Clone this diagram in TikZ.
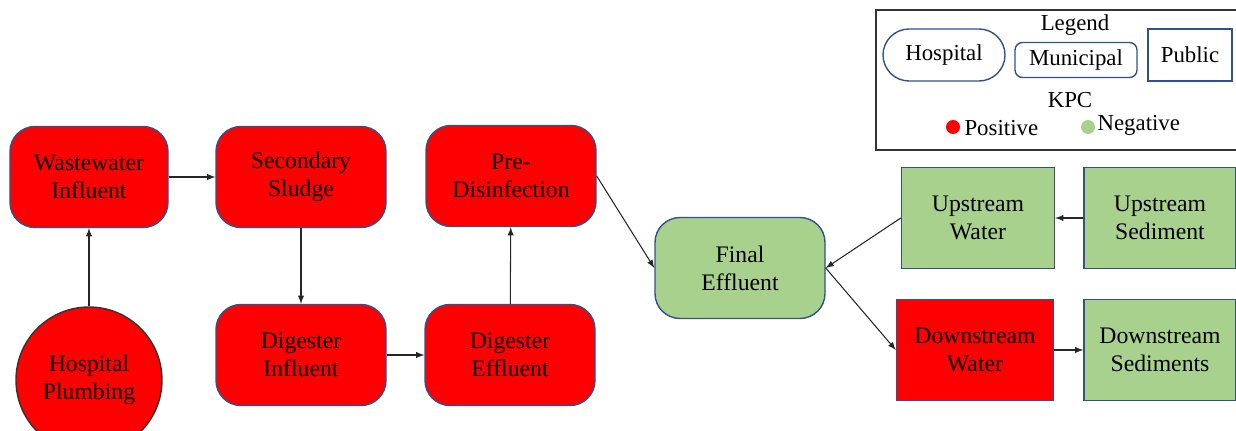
\documentclass[tikz,border=0pt]{standalone}
\usepackage{fontspec}
\setmainfont{Liberation Serif}
\newfontfamily\timesfont{Liberation Serif}
\usepackage{tikz}
\usetikzlibrary{positioning}
\definecolor{kpcred}{RGB}{255,0,0}
\definecolor{kpcgreen}{RGB}{169,209,142}
\definecolor{edgeblue}{RGB}{47,82,143}

\begin{document}
\begin{tikzpicture}[-latex, semithick,
font=\timesfont\fontsize{13.5}{16}\selectfont,
municipal/.style={rounded corners=0.5cm, draw=edgeblue, line width=0.8pt,
  align=center, minimum width=3.4cm, minimum height=2.02cm, inner sep=0pt},
public/.style={draw=edgeblue, line width=0.8pt, align=center,
  minimum width=3.06cm, minimum height=2.02cm, inner sep=0pt},
hospital/.style={circle, draw=black!80, line width=0.8pt, align=center,
  minimum size=2.92cm, inner sep=0pt},
kpcpos/.style={fill=kpcred}, kpcneg/.style={fill=kpcgreen}]
  \useasboundingbox (0,0) rectangle (24.72,8.6);
  % hospital
  \node[hospital, kpcpos] (hp) at (1.78, 1.0) {Hospital\\Plumbing};
  % treatment plant, top row
  \node[municipal, kpcpos, minimum width=3.16cm] (wi) at (1.78, 5.06) {Wastewater\\Influent};
  \node[municipal, kpcpos] (ss) at (6.02, 5.06) {Secondary\\Sludge};
  \node[municipal, kpcpos] (pd) at (10.22, 5.08) {Pre-\\Disinfection};
  % treatment plant, bottom row
  \node[municipal, kpcpos] (di) at (6.02, 1.5) {Digester\\Influent};
  \node[municipal, kpcpos] (de) at (10.2, 1.5) {Digester\\Effluent};
  % outlet
  \node[municipal, kpcneg] (fe) at (14.8, 3.24) {Final\\Effluent};
  % river
  \node[public, kpcneg] (uw) at (19.56, 4.24) {Upstream\\Water};
  \node[public, kpcneg, minimum width=3.04cm] (us) at (23.2, 4.24) {Upstream\\Sediment};
  \node[public, kpcpos, minimum width=3.14cm] (dw) at (19.5, 1.6) {Downstream\\Water};
  \node[public, kpcneg, minimum width=3.04cm] (ds) at (23.2, 1.6) {Downstream\\Sediments};

\foreach \from/\to in {hp/wi,wi/ss,ss/di,di/de,de/pd,pd.east/fe.west,uw.west/fe.east,fe.east/dw.west,us/uw,dw/ds}
    \draw[line width=0.6pt, black!85] (\from) -- (\to);

  % legend
  \begin{scope}[-, font=\timesfont\fontsize{13}{15}\selectfont]
  \node[draw=black!80, line width=0.9pt, minimum width=7.4cm, minimum height=2.8cm, inner sep=0pt] (lgbox) at (21.22, 7.0) {};
  \node (lgtitle) at (21.5, 8.1) {Legend};
  \node[draw=edgeblue, line width=0.8pt, rounded corners=0.52cm, minimum width=2.44cm, minimum height=1.04cm, inner sep=0pt] (lghosp) at (18.88, 7.5) {Hospital};
  \node[draw=edgeblue, line width=0.8pt, rounded corners=0.15cm, minimum width=2.44cm, minimum height=0.7cm, inner sep=0pt] (lgmuni) at (21.52, 7.4) {Municipal};
  \node[draw=edgeblue, line width=0.8pt, minimum width=1.68cm, minimum height=1.04cm, inner sep=0pt] (lgpub) at (23.8, 7.5) {Public};
  \node (lgkpc) at (21.4, 6.6) {KPC};
  \node[circle, kpcpos, minimum size=0.28cm, inner sep=0pt] (dotpos) at (19.06, 6.06) {};
  \node[anchor=west, inner sep=0pt] (lgpos) at (19.28, 6.04) {Positive};
  \node[circle, kpcneg, minimum size=0.28cm, inner sep=0pt] (dotneg) at (21.76, 6.06) {};
  \node[anchor=west, inner sep=0pt] (lgneg) at (21.94, 6.1) {Negative};
  \end{scope}
\end{tikzpicture}
\end{document}
